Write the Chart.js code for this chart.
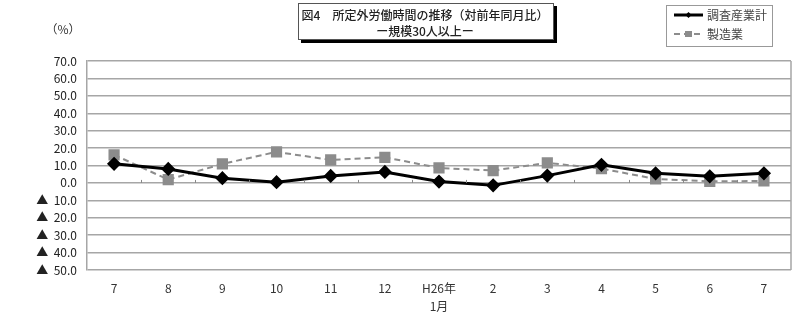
<!DOCTYPE html>
<html>
<head>
<meta charset="utf-8">
<script src="https://cdn.jsdelivr.net/npm/chart.js@4"></script>
<style>
  html, body { margin: 0; padding: 0; background: #fff; }
  #wrap { width: 800px; height: 315px; position: relative; }
</style>
</head>
<body>
<div id="wrap"><canvas id="overtime"></canvas></div>
<script>
// months: H25/7 .. H26/7
const months = ['7', '8', '9', '10', '11', '12', ['H26年', '1月'], '2', '3', '4', '5', '6', '7'];
const allIndustries = [11.0, 8.0, 2.7, 0.4, 4.0, 6.3, 0.8, -1.4, 4.2, 10.4, 5.5, 3.8, 5.5]; // 調査産業計
const manufacturing = [16.1, 1.9, 10.9, 17.8, 13.2, 14.7, 8.6, 7.1, 11.5, 8.2, 2.3, 0.9, 1.1]; // 製造業
const yMin = -50, yMax = 70, yStep = 10;

const jpFont = '"Noto Sans CJK JP", sans-serif';

// title box, legend box, (%) label, right border and the little ticks on the 0 line
const decorations = {
  id: 'decorations',
  afterDraw(chart) {
    const ctx = chart.ctx;
    const area = chart.chartArea;
    const x = chart.scales.x, y = chart.scales.y;
    ctx.save();

    // right edge of plot
    ctx.strokeStyle = '#a6a6a6';
    ctx.lineWidth = 1.5;
    ctx.beginPath();
    ctx.moveTo(area.right, area.top);
    ctx.lineTo(area.right, area.bottom);
    ctx.stroke();

    // ticks between categories on the zero line
    const y0 = y.getPixelForValue(0);
    const half = (x.getPixelForValue(1) - x.getPixelForValue(0)) / 2;
    ctx.strokeStyle = '#888';
    ctx.lineWidth = 1;
    for (let i = 1; i < months.length; i++) {
      const px = Math.round(x.getPixelForValue(i) - half) + 0.5;
      ctx.beginPath();
      ctx.moveTo(px, y0);
      ctx.lineTo(px, y0 - 3);
      ctx.stroke();
    }

    // (%)
    ctx.fillStyle = '#333';
    ctx.font = '12px ' + jpFont;
    ctx.textAlign = 'center';
    ctx.textBaseline = 'middle';
    ctx.fillText('（%）', 63, 29);

    // title box with shadow
    ctx.fillStyle = '#000';
    ctx.fillRect(301, 6, 256, 37);
    ctx.fillStyle = '#fff';
    ctx.fillRect(298, 3, 255, 36);
    ctx.strokeStyle = '#555';
    ctx.lineWidth = 1;
    ctx.strokeRect(298.5, 3.5, 255, 36);
    ctx.fillStyle = '#222';
    ctx.font = '500 12px ' + jpFont;
    ctx.fillText('図4　所定外労働時間の推移（対前年同月比）', 425, 15);
    ctx.fillText('ー規模30人以上ー', 425, 31);

    // legend box
    ctx.strokeStyle = '#999';
    ctx.strokeRect(666.5, 5.5, 106, 41);
    ctx.textAlign = 'left';
    ctx.font = '12px ' + jpFont;
    const ds = chart.data.datasets;
    const rows = [15, 34];
    ds.forEach((d, i) => {
      const ly = rows[i];
      ctx.strokeStyle = d.borderColor;
      ctx.lineWidth = d.borderWidth;
      ctx.setLineDash(d.borderDash || []);
      ctx.beginPath();
      ctx.moveTo(674, ly);
      ctx.lineTo(703, ly);
      ctx.stroke();
      ctx.setLineDash([]);
      ctx.fillStyle = d.pointBackgroundColor;
      ctx.beginPath();
      if (d.pointStyle === 'rectRot') {
        ctx.moveTo(688.5, ly - 3); ctx.lineTo(691.5, ly); ctx.lineTo(688.5, ly + 3); ctx.lineTo(685.5, ly);
      } else {
        ctx.rect(685, ly - 3, 7, 6);
      }
      ctx.fill();
      ctx.fillStyle = '#444';
      ctx.fillText(d.label, 707, ly);
    });
    ctx.restore();
  }
};

new Chart(document.getElementById('overtime'), {
  type: 'line',
  data: {
    labels: months,
    datasets: [
      {
        label: '調査産業計',
        data: allIndustries,
        borderColor: '#000',
        borderWidth: 3,
        pointStyle: 'rectRot',
        pointRadius: 5,
        pointBackgroundColor: '#000',
        pointBorderColor: '#000',
        tension: 0,
        order: 1
      },
      {
        label: '製造業',
        data: manufacturing,
        borderColor: '#8c8c8c',
        borderWidth: 2,
        borderDash: [6, 4],
        pointStyle: 'rect',
        pointRadius: 6.5,
        pointBackgroundColor: '#8c8c8c',
        pointBorderColor: '#8c8c8c',
        tension: 0,
        order: 2
      }
    ]
  },
  options: {
    responsive: true,
    maintainAspectRatio: false,
    animation: false,
    layout: { padding: { top: 61, right: 9, left: 0, bottom: 0 } },
    plugins: {
      legend: { display: false },
      tooltip: { enabled: false }
    },
    scales: {
      x: {
        offset: true,
        grid: { display: false },
        border: { display: false },
        ticks: {
          color: '#333',
          font: { family: jpFont, size: 12, lineHeight: 1.55 },
          maxRotation: 0,
          autoSkip: false,
          padding: 1
        },
        afterFit: (scale) => { scale.height = 45; }
      },
      y: {
        min: yMin,
        max: yMax,
        grid: { color: '#a6a6a6', lineWidth: 1.5, drawTicks: false },
        border: { color: '#a6a6a6', width: 1.5 },
        ticks: {
          stepSize: yStep,
          color: '#222',
          padding: 10,
          font: { family: jpFont, size: 12 },
          callback: v => v < 0 ? '▲  ' + Math.abs(v).toFixed(1) : v.toFixed(1)
        },
        afterFit: (scale) => { scale.width = 87; }
      }
    }
  },
  plugins: [decorations]
});
</script>
</body>
</html>
